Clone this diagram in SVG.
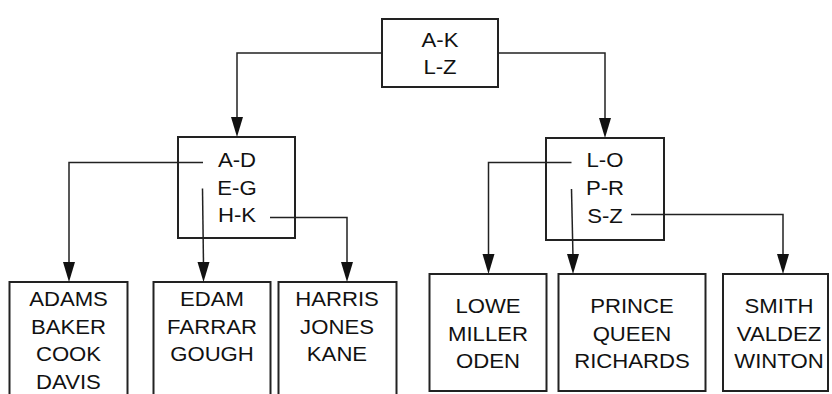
<svg xmlns="http://www.w3.org/2000/svg" width="832" height="394" viewBox="0 0 832 394">
<style>
.box{fill:#fff;stroke:#222;stroke-width:2}
.conn{fill:none;stroke:#222;stroke-width:1.5}
.head{fill:#111}
.t{font-family:"Liberation Sans",Arial,sans-serif;font-size:20.5px;fill:#111;text-anchor:middle}
</style>
<rect width="832" height="394" fill="#fff"/>
<g id="root">
<rect class="box" x="382" y="19" width="116" height="68"/>
<text class="t" transform="translate(440,0) scale(1.08,1)"><tspan x="0" y="47">A-K</tspan><tspan x="0" y="74">L-Z</tspan></text>
</g>
<g id="mid-left">
<rect class="box" x="178" y="137" width="117" height="101"/>
<text class="t" transform="translate(237,0) scale(1.08,1)"><tspan x="0" y="167.5">A-D</tspan><tspan x="0" y="195">E-G</tspan><tspan x="0" y="222.5">H-K</tspan></text>
</g>
<g id="mid-right">
<rect class="box" x="546" y="138" width="118" height="102"/>
<text class="t" transform="translate(605,0) scale(1.08,1)"><tspan x="0" y="167.5">L-O</tspan><tspan x="0" y="195.5">P-R</tspan><tspan x="0" y="223">S-Z</tspan></text>
</g>
<g id="leaf-ad">
<rect class="box" x="9.5" y="282" width="118" height="130"/>
<text class="t" transform="translate(68.5,0) scale(1.08,1)"><tspan x="0" y="306">ADAMS</tspan><tspan x="0" y="334">BAKER</tspan><tspan x="0" y="361.5">COOK</tspan><tspan x="0" y="389">DAVIS</tspan></text>
</g>
<g id="leaf-eg">
<rect class="box" x="153.5" y="282" width="117" height="130"/>
<text class="t" transform="translate(212,0) scale(1.08,1)"><tspan x="0" y="306">EDAM</tspan><tspan x="0" y="334">FARRAR</tspan><tspan x="0" y="361.5">GOUGH</tspan></text>
</g>
<g id="leaf-hk">
<rect class="box" x="278.5" y="282" width="118" height="130"/>
<text class="t" transform="translate(337,0) scale(1.08,1)"><tspan x="0" y="306">HARRIS</tspan><tspan x="0" y="334">JONES</tspan><tspan x="0" y="361.5">KANE</tspan></text>
</g>
<g id="leaf-lo">
<rect class="box" x="429.5" y="274" width="117" height="117"/>
<text class="t" transform="translate(488,0) scale(1.08,1)"><tspan x="0" y="313">LOWE</tspan><tspan x="0" y="341">MILLER</tspan><tspan x="0" y="368">ODEN</tspan></text>
</g>
<g id="leaf-pr">
<rect class="box" x="558.5" y="274" width="147" height="117"/>
<text class="t" transform="translate(632,0) scale(1.08,1)"><tspan x="0" y="313">PRINCE</tspan><tspan x="0" y="341">QUEEN</tspan><tspan x="0" y="368">RICHARDS</tspan></text>
</g>
<g id="leaf-sz">
<rect class="box" x="723" y="274" width="105" height="117"/>
<text class="t" transform="translate(779,0) scale(1.08,1)"><tspan x="0" y="313">SMITH</tspan><tspan x="0" y="341">VALDEZ</tspan><tspan x="0" y="368">WINTON</tspan></text>
</g>
<g id="connectors">
<path class="conn" d="M382,53 H237 V120"/>
<path class="conn" d="M498,53 H605 V121"/>
<path class="conn" d="M203,162.5 H69 V265"/>
<path class="conn" d="M202.5,188.5 L203.5,265"/>
<path class="conn" d="M270,217.5 H347 V265"/>
<path class="conn" d="M571.5,162.5 H488.5 V257"/>
<path class="conn" d="M571.5,189 L573,257"/>
<path class="conn" d="M631,214.5 H783 V257"/>
<path class="head" d="M231,117 L243,117 L237,137 Z"/>
<path class="head" d="M599,118 L611,118 L605,138 Z"/>
<path class="head" d="M63,262 L75,262 L69,282 Z"/>
<path class="head" d="M197.5,262 L209.5,262 L203.5,282 Z"/>
<path class="head" d="M341,262 L353,262 L347,282 Z"/>
<path class="head" d="M482.5,254 L494.5,254 L488.5,274 Z"/>
<path class="head" d="M567,254 L579,254 L573,274 Z"/>
<path class="head" d="M777,254 L789,254 L783,274 Z"/>
</g>
</svg>
